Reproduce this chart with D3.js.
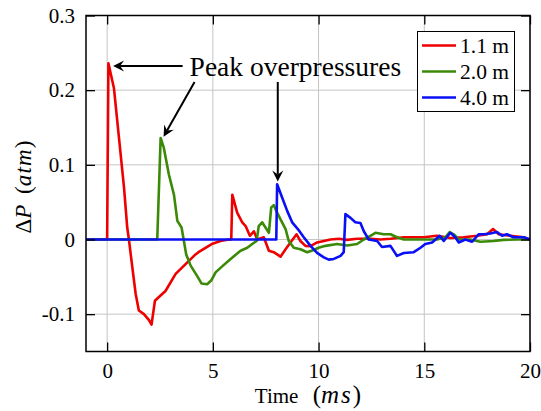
<!DOCTYPE html>
<html>
<head>
<meta charset="utf-8">
<script src="https://cdn.jsdelivr.net/npm/d3@7"></script>
</head>
<body style="margin:0">
<svg id="chart" width="541" height="411"></svg>
<script>
// Pressure traces: time in ms, overpressure in atm
const time11 = [-1, 0, 0.06, 0.32, 0.56, 0.8, 0.95, 1.03, 1.19, 1.35, 1.5, 1.74, 1.98, 2.1, 2.26, 2.45, 2.76, 3.24, 3.71, 4.18, 4.32, 4.81, 4.95, 5.36, 5.75, 5.87, 5.92, 6.15, 6.39, 6.55, 6.75, 6.94, 7.1, 7.41, 7.65, 7.88, 8.2, 8.44, 8.67, 8.96, 9.14, 9.38, 9.62, 9.93, 10.25, 10.56, 10.96, 11.35, 11.82, 12.45, 12.93, 13.4, 14.03, 14.66, 14.97, 15.6, 16.24, 16.86, 17.5, 17.97, 18.25, 18.52, 19.07, 19.7, 20];
const dp11 = [0, 0, 0.236, 0.203, 0.136, 0.069, 0.016, 0, -0.037, -0.073, -0.095, -0.1, -0.108, -0.114, -0.082, -0.077, -0.069, -0.046, -0.033, -0.02, -0.017, -0.0085, -0.006, -0.002, 0, 0, 0.06, 0.036, 0.023, 0.018, 0.005, 0.011, 0, 0.003, -0.015, -0.017, -0.023, -0.013, -0.004, 0.007, -0.002, -0.0085, -0.009, -0.004, -0.002, 0, 0.001, -0.0005, 0.001, 0.001, 0, 0.001, 0.003, 0.003, 0.003, 0.005, 0.002, 0.003, 0.005, 0.007, 0.014, 0.007, 0.005, 0.003, 0];

const time20 = [-1, 2.37, 2.53, 2.68, 2.92, 3.16, 3.32, 3.52, 3.63, 3.74, 3.95, 4.26, 4.47, 4.73, 4.92, 5.13, 5.44, 5.84, 6.31, 6.63, 6.86, 7.07, 7.17, 7.33, 7.49, 7.65, 7.76, 7.88, 8.04, 8.2, 8.44, 8.59, 8.83, 9.14, 9.46, 9.77, 10.0, 10.33, 10.88, 11.35, 11.82, 12.14, 12.45, 12.69, 13.08, 13.4, 13.71, 14.03, 14.66, 15.6, 16.0, 16.2, 16.39, 16.63, 17.18, 17.65, 18.28, 18.75, 19.39, 20];
const dp20 = [0, 0, 0.136, 0.123, 0.087, 0.06, 0.025, 0.016, -0.002, -0.02, -0.035, -0.049, -0.059, -0.06, -0.055, -0.044, -0.036, -0.026, -0.015, -0.011, -0.006, -0.002, 0.018, 0.023, 0.016, 0.009, 0.043, 0.046, 0.036, 0.027, 0.014, -0.002, -0.011, -0.013, -0.017, -0.014, -0.011, -0.0085, -0.006, -0.008, -0.006, 0, 0.005, 0.009, 0.007, 0.007, 0.003, 0, 0, 0, 0.003, 0.01, 0.007, 0, 0, -0.003, -0.002, -0.0005, 0, 0];

const time40 = [-1, 8.0, 8.04, 8.28, 8.52, 8.75, 9.02, 9.3, 9.62, 9.93, 10.25, 10.48, 10.72, 11.04, 11.19, 11.27, 11.51, 11.74, 11.98, 12.14, 12.37, 12.77, 13.0, 13.4, 13.71, 14.03, 14.5, 14.82, 15.05, 15.37, 15.73, 15.92, 16.23, 16.47, 16.63, 16.94, 17.26, 17.57, 17.81, 18.12, 18.44, 18.68, 18.91, 19.22, 19.7, 20];
const dp40 = [0, 0, 0.074, 0.056, 0.038, 0.023, 0.014, 0.003, -0.0085, -0.018, -0.024, -0.027, -0.026, -0.022, -0.017, 0.034, 0.029, 0.023, 0.022, 0.011, 0, -0.002, -0.01, -0.0085, -0.022, -0.018, -0.017, -0.011, -0.006, -0.004, 0.005, -0.002, 0.009, 0.003, -0.004, 0, -0.003, 0.007, 0.007, 0.008, 0.01, 0.005, 0.007, 0.003, 0.003, 0];

const seriesNames = ["1.1 m", "2.0 m", "4.0 m"];
const seriesColors = ["#ee0000", "#3a8a08", "#0a10f5"];

const xTicks = [0, 5, 10, 15, 20];
const yTicks = [-0.1, 0, 0.1, 0.2, 0.3];
const yTickLabels = ["-0.1", "0", "0.1", "0.2", "0.3"];

// Arrows pointing at each peak: [tailT, tailP, tipT, tipP]
const arrows = [
  [3.57, 0.2324, 0.28, 0.2324],
  [4.135, 0.211, 2.67, 0.1377],
  [8.07, 0.211, 8.07, 0.0777]
];
const noteText = "Peak overpressures";
const notePos = [3.9, 0.2195];

const FONT = "\"Liberation Serif\"";

const svg = d3.select("#chart");
const margin = { left: 86, right: 11, top: 15.5, bottom: 59.5 };
const W = 541, H = 411;
const x = d3.scaleLinear().domain([-1, 20]).range([margin.left, W - margin.right]);
const y = d3.scaleLinear().domain([-0.15, 0.3]).range([H - margin.bottom, margin.top]);

const x0 = x.range()[0], x1 = x.range()[1];
const y0 = y.range()[0], y1 = y.range()[1];

function serif(sel) {
  return sel.attr("font-family", "Liberation Serif").style("font-family", FONT);
}

// grid
const grid = svg.append("g").attr("stroke", "#c4c4c4").attr("stroke-width", 1);
xTicks.forEach(t => grid.append("line")
  .attr("x1", x(t)).attr("x2", x(t)).attr("y1", y0).attr("y2", y1));
yTicks.forEach(v => grid.append("line")
  .attr("x1", x0).attr("x2", x1).attr("y1", y(v)).attr("y2", y(v)));

// series
const line = d3.line().x(d => x(d[0])).y(d => y(d[1]));
const data = [
  d3.zip(time11, dp11),
  d3.zip(time20, dp20),
  d3.zip(time40, dp40)
];
const plot = svg.append("g");
data.forEach((d, i) => plot.append("path")
  .datum(d)
  .attr("d", line)
  .attr("fill", "none")
  .attr("stroke", seriesColors[i])
  .attr("stroke-width", 2.6)
  .attr("stroke-linejoin", "round"));

// axes with inward ticks on all four sides
const tickLen = 9;
const axB = d3.axisBottom(x).tickValues(xTicks).tickSize(-tickLen).tickPadding(12).tickFormat(d3.format("d"));
const axT = d3.axisTop(x).tickValues(xTicks).tickSize(-tickLen).tickFormat("");
const axL = d3.axisLeft(y).tickValues(yTicks).tickSize(-tickLen).tickPadding(11).tickFormat((d, i) => yTickLabels[i]);
const axR = d3.axisRight(y).tickValues(yTicks).tickSize(-tickLen).tickFormat("");

function styleAxis(g) {
  serif(g);
  g.select(".domain").remove();
  g.selectAll(".tick line").attr("stroke", "#000").attr("stroke-width", 1.3);
  serif(g.selectAll(".tick text")).attr("font-size", 21).attr("fill", "#000");
}
svg.append("g").attr("transform", `translate(0,${y0})`).call(axB).call(styleAxis);
svg.append("g").attr("transform", `translate(0,${y1})`).call(axT).call(styleAxis);
svg.append("g").attr("transform", `translate(${x0},0)`).call(axL).call(styleAxis);
svg.append("g").attr("transform", `translate(${x1},0)`).call(axR).call(styleAxis);

// frame
svg.append("rect")
  .attr("x", x0).attr("y", y1).attr("width", x1 - x0).attr("height", y0 - y1)
  .attr("fill", "none").attr("stroke", "#000").attr("stroke-width", 1.5);

// axis titles
const xt = serif(svg.append("text"))
  .attr("x", (x0 + x1) / 2).attr("y", 403)
  .attr("text-anchor", "middle").attr("font-size", 21);
xt.append("tspan").text("Time ");
xt.append("tspan").attr("dx", 9).attr("font-size", 25).text("(");
xt.append("tspan").attr("font-size", 25).attr("letter-spacing", 2).attr("font-style", "italic").text("ms");
xt.append("tspan").attr("font-size", 25).text(")");

const yt = serif(svg.append("text"))
  .attr("transform", `translate(31,187) rotate(-90)`)
  .attr("text-anchor", "middle").attr("font-size", 23);
yt.append("tspan").text("Δ");
yt.append("tspan").attr("font-style", "italic").text("P");
yt.append("tspan").attr("dx", 5).text(" (");
yt.append("tspan").attr("font-style", "italic").attr("letter-spacing", 1.2).text("atm");
yt.append("tspan").text(")");

// annotation
serif(svg.append("text"))
  .attr("x", x(notePos[0])).attr("y", y(notePos[1]))
  .attr("font-size", 27.5).text(noteText);

arrows.forEach(a => {
  const tx = x(a[0]), ty = y(a[1]), hx = x(a[2]), hy = y(a[3]);
  const ang = Math.atan2(hy - ty, hx - tx);
  const len = 11, half = 5.5, back = 7;
  const ux = Math.cos(ang), uy = Math.sin(ang);
  const px = -uy, py = ux;
  svg.append("line")
    .attr("x1", tx).attr("y1", ty)
    .attr("x2", hx - ux * back).attr("y2", hy - uy * back)
    .attr("stroke", "#000").attr("stroke-width", 2);
  const pts = [
    [hx, hy],
    [hx - ux * len + px * half, hy - uy * len + py * half],
    [hx - ux * back, hy - uy * back],
    [hx - ux * len - px * half, hy - uy * len - py * half]
  ];
  svg.append("path").attr("d", "M" + pts.map(p => p.join(",")).join("L") + "Z")
    .attr("fill", "#000");
});

// legend
const lg = svg.append("g");
lg.append("rect").attr("x", 417.5).attr("y", 31.5).attr("width", 97).attr("height", 80)
  .attr("fill", "#fff").attr("stroke", "#000").attr("stroke-width", 1);
seriesNames.forEach((n, i) => {
  const cy = 45.5 + i * 26;
  lg.append("line").attr("x1", 422).attr("x2", 456).attr("y1", cy).attr("y2", cy)
    .attr("stroke", seriesColors[i]).attr("stroke-width", 2.6);
  serif(lg.append("text")).attr("x", 460).attr("y", cy + 7)
    .attr("font-size", 21.5).text(n);
});
</script>
</body>
</html>
